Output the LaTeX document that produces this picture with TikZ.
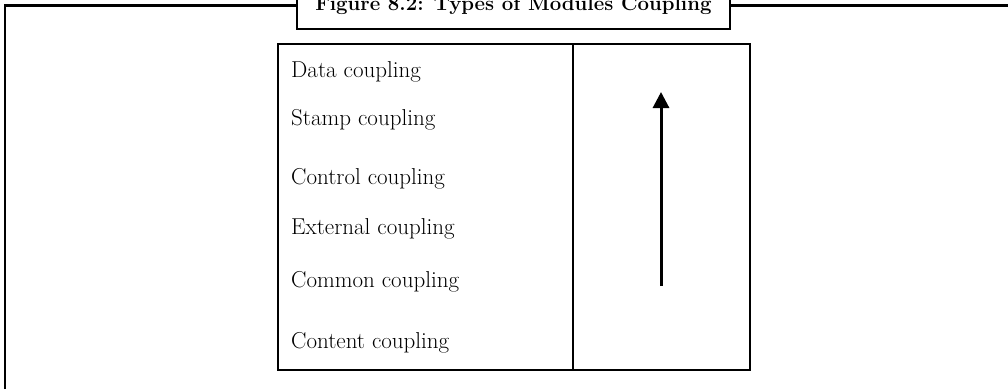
\documentclass[tikz,border=0pt]{standalone}
\usetikzlibrary{arrows.meta}
\begin{document}
\begin{tikzpicture}[x=1pt,y=-1pt,
  frameline/.style={line width=2.8pt,black,overlay},
  titlebox/.style={draw,line width=2.4pt,minimum width=433pt,minimum height=60pt,inner sep=0pt,anchor=south,overlay},
  titletext/.style={anchor=base,inner sep=0pt,overlay,font=\fontsize{20.4}{24}\selectfont\bfseries},
  cell/.style={draw,line width=1.8pt,inner sep=0pt,anchor=north west},
  item/.style={anchor=base west,inner sep=0pt,font=\fontsize{23}{27}\selectfont},
  uparrow/.style={line width=3pt,-{Triangle[width=16pt,length=16pt]}}]
\useasboundingbox (0,0) rectangle (1008,389);
% title box and frame
\node[titlebox] (tbox) at (513.5,30) {};
\node[titletext] (title) at (513.5,10) {Figure 8.2: Types of Modules Coupling};
\coordinate (ftl) at (5,5.5);
\coordinate (fbl) at (5,389);
\coordinate (ftr) at (1008,5.5);
\draw[frameline] (fbl) -- (ftl) -- (ftl -| tbox.west);
\draw[frameline] (tbox.east |- ftl) -- (ftr);
% table
\node[cell,minimum width=295pt,minimum height=326pt] (left) at (277,43) {};
\node[cell,minimum width=177pt,minimum height=326pt] (right) at (572,43) {};
% items
\node[item] (i1) at (291,77) {Data coupling};
\node[item] (i2) at (291,125) {Stamp coupling};
\node[item] (i3) at (291,184) {Control coupling};
\node[item] (i4) at (291,234) {External coupling};
\node[item] (i5) at (291,287) {Common coupling};
\node[item] (i6) at (291,348) {Content coupling};
% arrow
\coordinate (abot) at (661,286);
\coordinate (atop) at (661,92);
\draw[uparrow] (abot) -- (atop);
\end{tikzpicture}
\end{document}
